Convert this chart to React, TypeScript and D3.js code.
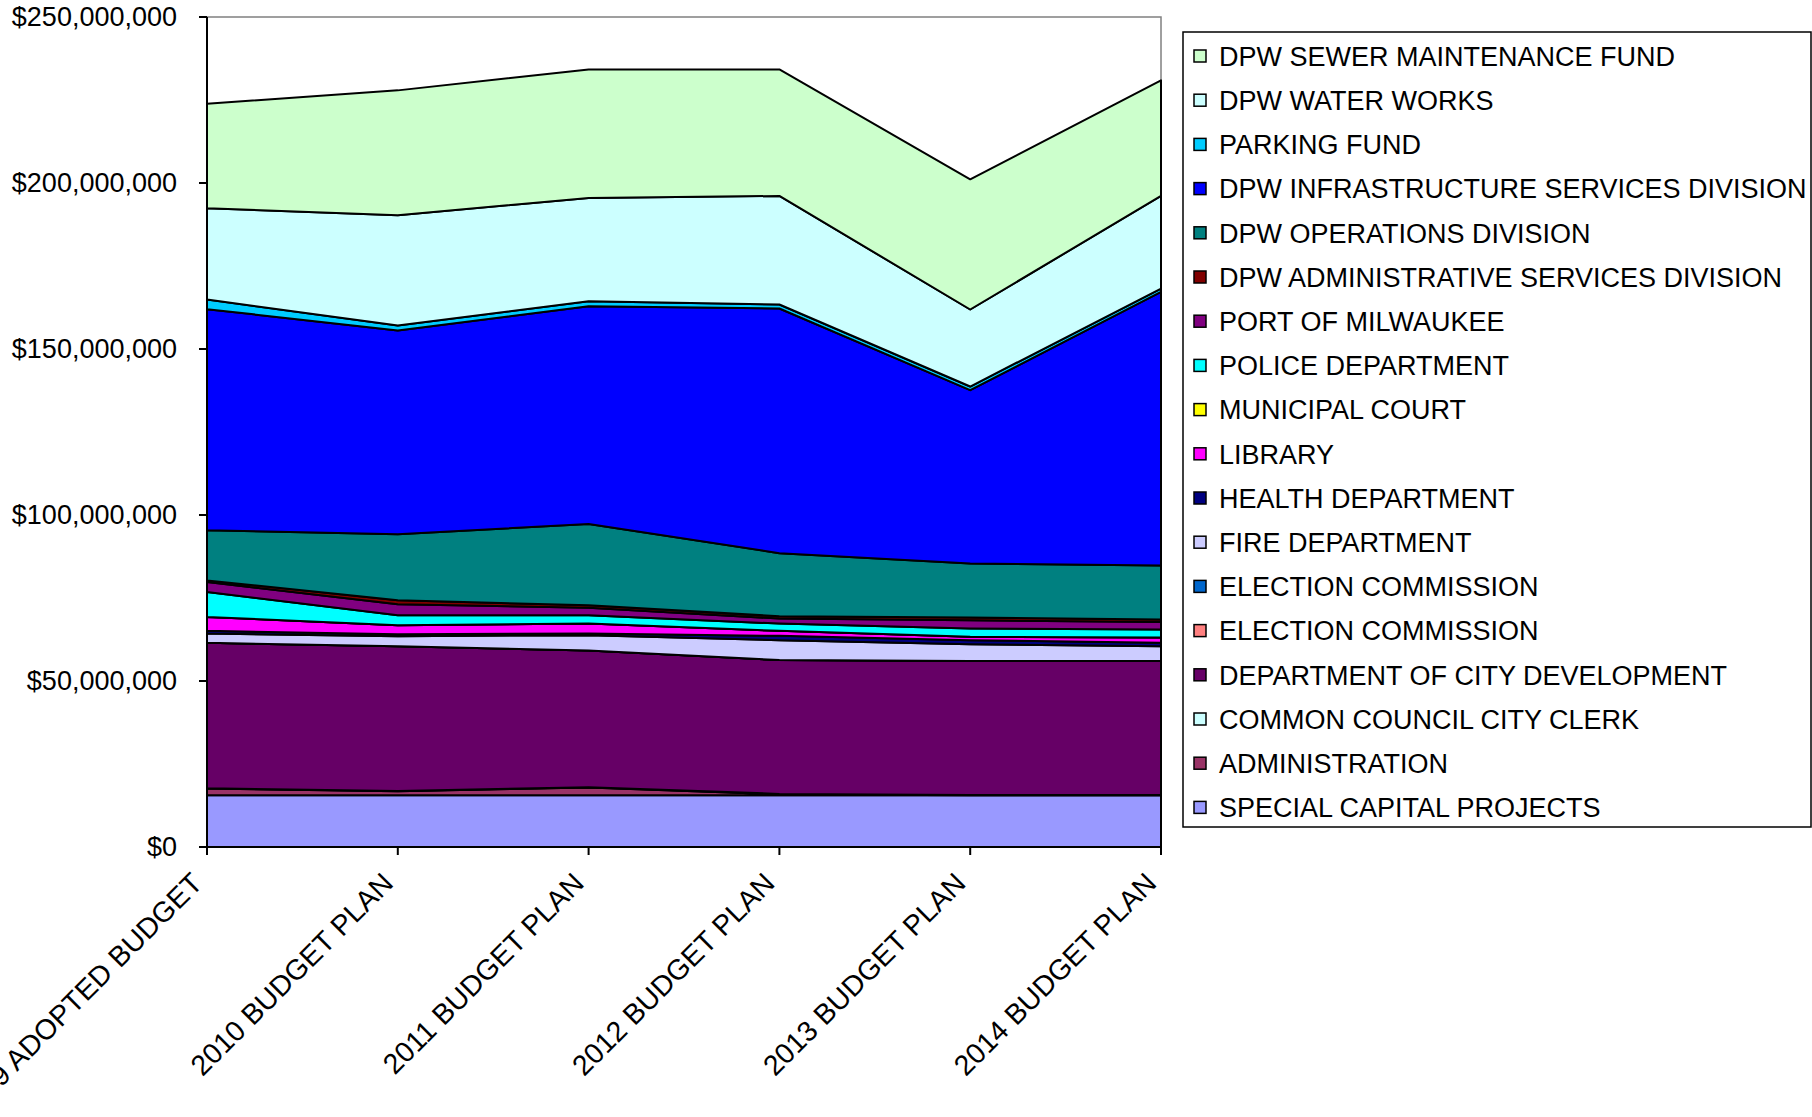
import React from 'react';
import * as d3 from 'd3';

// Categories (x axis)
const categories = [
  '2009 ADOPTED BUDGET',
  '2010 BUDGET PLAN',
  '2011 BUDGET PLAN',
  '2012 BUDGET PLAN',
  '2013 BUDGET PLAN',
  '2014 BUDGET PLAN',
];

// Series values, millions of dollars (stack order bottom -> top)
const specialCapitalProjects = [15.6, 15.6, 15.6, 15.6, 15.6, 15.6];
const administration = [2.0, 1.2, 2.3, 0.3, 0.0, 0.0];
const commonCouncilCityClerk = [0.1, 0.1, 0.1, 0.1, 0.1, 0.1];
const departmentOfCityDevelopment = [43.8, 43.6, 41.2, 40.3, 40.3, 40.3];
const electionCommissionA = [0.0, 0.0, 0.0, 0.0, 0.0, 0.0];
const electionCommissionB = [0.0, 0.0, 0.0, 0.0, 0.0, 0.0];
const fireDepartment = [2.8, 3.0, 4.6, 6.0, 5.1, 4.5];
const healthDepartment = [0.8, 0.6, 0.5, 1.3, 1.2, 1.0];
const library = [4.2, 2.7, 3.0, 1.5, 1.0, 1.6];
const municipalCourt = [0.0, 0.0, 0.0, 0.0, 0.0, 0.0];
const policeDepartment = [7.5, 3.0, 2.5, 2.2, 2.5, 2.4];
const portOfMilwaukee = [3.0, 3.3, 2.3, 1.5, 2.5, 2.3];
const dpwAdministrativeServices = [0.5, 1.2, 0.7, 0.7, 0.8, 0.7];
const dpwOperations = [15.1, 19.9, 24.5, 19.0, 16.3, 16.3];
const dpwInfrastructure = [66.6, 61.4, 65.6, 73.7, 52.2, 82.4];
const parkingFund = [2.9, 1.5, 1.5, 1.2, 1.1, 1.0];
const dpwWaterWorks = [27.5, 33.2, 31.1, 32.7, 23.2, 27.9];
const dpwSewerMaintenance = [31.5, 37.6, 38.7, 38.1, 39.2, 34.8];

const seriesNames = [
  'SPECIAL CAPITAL PROJECTS',
  'ADMINISTRATION',
  'COMMON COUNCIL CITY CLERK',
  'DEPARTMENT OF CITY DEVELOPMENT',
  'ELECTION COMMISSION',
  'ELECTION COMMISSION',
  'FIRE DEPARTMENT',
  'HEALTH DEPARTMENT',
  'LIBRARY',
  'MUNICIPAL COURT',
  'POLICE DEPARTMENT',
  'PORT OF MILWAUKEE',
  'DPW ADMINISTRATIVE SERVICES DIVISION',
  'DPW OPERATIONS DIVISION',
  'DPW INFRASTRUCTURE SERVICES DIVISION',
  'PARKING FUND',
  'DPW WATER WORKS',
  'DPW SEWER MAINTENANCE FUND',
];

const seriesValues = [
  specialCapitalProjects,
  administration,
  commonCouncilCityClerk,
  departmentOfCityDevelopment,
  electionCommissionA,
  electionCommissionB,
  fireDepartment,
  healthDepartment,
  library,
  municipalCourt,
  policeDepartment,
  portOfMilwaukee,
  dpwAdministrativeServices,
  dpwOperations,
  dpwInfrastructure,
  parkingFund,
  dpwWaterWorks,
  dpwSewerMaintenance,
];

const seriesColors = [
  '#9999FF',
  '#993366',
  '#CCFFFF',
  '#660066',
  '#FF8080',
  '#0066CC',
  '#CCCCFF',
  '#000080',
  '#FF00FF',
  '#FFFF00',
  '#00FFFF',
  '#800080',
  '#800000',
  '#008080',
  '#0000FF',
  '#00CCFF',
  '#CCFFFF',
  '#CCFFCC',
];

const yTicks = [0, 50000000, 100000000, 150000000, 200000000, 250000000];

const FONT = "'Liberation Sans', Arial, sans-serif";

export default function App() {
  const width = 1812;
  const height = 1117;
  const left = 207;
  const right = 1161;
  const top = 17;
  const bottom = 847;

  const keys = seriesNames.map((_, i) => 'k' + i);
  const rows = categories.map((c, j) => {
    const r: any = { cat: c };
    seriesValues.forEach((arr, i) => {
      r['k' + i] = arr[j] * 1e6;
    });
    return r;
  });
  const stacked = d3.stack().keys(keys)(rows);

  const x = d3.scalePoint().domain(categories).range([left, right]).padding(0);
  const y = d3.scaleLinear().domain([0, 250000000]).range([bottom, top]);

  const area = d3
    .area<any>()
    .x((d: any) => x(d.data.cat) as number)
    .y0((d: any) => y(d[0]))
    .y1((d: any) => y(d[1]));

  const fmt = (v: number) => '$' + d3.format(',')(v);

  const legendX = 1183;
  const legendY = 32;
  const legendW = 628;
  const legendH = 795;
  const rowStart = 56;
  const rowStep = 44.2;
  const legendOrder = seriesNames.map((_, i) => i).reverse();

  return (
    <svg
      width={width}
      height={height}
      style={{ position: 'absolute', left: 0, top: 0, background: '#fff' }}
      fontFamily={FONT}
    >
      <rect x={0} y={0} width={width} height={height} fill="#fff" />
      <rect
        x={left}
        y={top}
        width={right - left}
        height={bottom - top}
        fill="#fff"
        stroke="#808080"
        strokeWidth={1.5}
      />
      {stacked.map((s, i) => (
        <path
          key={i}
          d={area(s as any) || ''}
          fill={seriesColors[i]}
          stroke="#000"
          strokeWidth={2}
          strokeLinejoin="round"
        />
      ))}
      {/* axes */}
      <line x1={left} x2={left} y1={top} y2={bottom} stroke="#000" strokeWidth={2} />
      <line x1={left} x2={right} y1={bottom} y2={bottom} stroke="#000" strokeWidth={2} />
      {yTicks.map((t) => (
        <g key={t}>
          <line x1={left - 8} x2={left} y1={y(t)} y2={y(t)} stroke="#000" strokeWidth={2} />
          <text
            x={177}
            y={y(t)}
            textAnchor="end"
            dominantBaseline="central"
            fontSize={27}
            fill="#000"
          >
            {fmt(t)}
          </text>
        </g>
      ))}
      {categories.map((c) => {
        const cx = x(c) as number;
        return (
          <g key={c}>
            <line x1={cx} x2={cx} y1={bottom} y2={bottom + 8} stroke="#000" strokeWidth={2} />
            <text
              transform={`translate(${cx - 3},${bottom + 38}) rotate(-45)`}
              textAnchor="end"
              fontSize={28.5}
              fill="#000"
            >
              {c}
            </text>
          </g>
        );
      })}
      {/* legend */}
      <rect
        x={legendX}
        y={legendY}
        width={legendW}
        height={legendH}
        fill="#fff"
        stroke="#000"
        strokeWidth={1.5}
      />
      {legendOrder.map((idx, r) => {
        const cy = rowStart + r * rowStep;
        return (
          <g key={r}>
            <rect
              x={1194}
              y={cy - 6}
              width={12}
              height={12}
              fill={seriesColors[idx]}
              stroke="#000"
              strokeWidth={1.5}
            />
            <text x={1219} y={cy + 9.7} fontSize={27} fill="#000">
              {seriesNames[idx]}
            </text>
          </g>
        );
      })}
    </svg>
  );
}
